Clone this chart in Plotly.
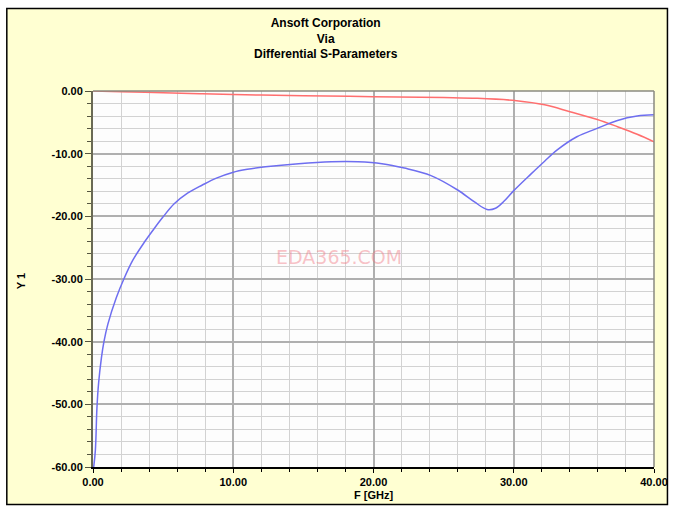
import plotly.graph_objects as go

# Data
freq_s11 = [0.05, 0.17, 0.28, 0.4, 0.6, 0.78, 1.06, 1.66, 2.2, 2.84, 3.67, 4.38, 4.96,
            5.79, 6.74, 7.8, 8.8, 9.95, 11.0, 12.3, 14.66, 17.0, 18.9, 20.6, 22.2, 24.1,
            26.0, 27.2, 28.1, 28.7, 29.3, 30.0, 31.2, 32.2, 33.1, 34.5, 35.9, 37.4, 38.8, 40.0]
s11_db = [-60.0, -57.3, -50.6, -46.6, -42.6, -40.0, -37.2, -33.0, -30.0, -27.0, -24.1,
          -21.9, -20.2, -18.0, -16.3, -15.0, -13.9, -13.0, -12.5, -12.1, -11.6, -11.3,
          -11.3, -11.6, -12.3, -13.5, -15.8, -17.7, -18.9, -18.7, -17.6, -15.9, -13.3,
          -11.2, -9.4, -7.3, -6.0, -4.7, -4.0, -3.8]

freq_s21 = [0.0, 2.0, 5.0, 7.6, 10.0, 12.0, 15.0, 20.0, 25.0, 27.4, 30.2, 32.2, 34.0,
            35.9, 37.4, 38.8, 40.0]
s21_db = [0.0, -0.1, -0.27, -0.43, -0.56, -0.64, -0.75, -0.9, -1.05, -1.17, -1.55,
          -2.2, -3.3, -4.5, -5.7, -6.9, -8.1]

x_ticks = [0, 10, 20, 30, 40]
x_ticklabels = ["0.00", "10.00", "20.00", "30.00", "40.00"]
y_ticks = [0, -10, -20, -30, -40, -50, -60]
y_ticklabels = ["0.00", "-10.00", "-20.00", "-30.00", "-40.00", "-50.00", "-60.00"]

title_lines = ["Ansoft Corporation", "Via", "Differential S-Parameters"]

FONT = "Liberation Sans, Arial, sans-serif"

fig = go.Figure()
fig.add_trace(go.Scatter(x=freq_s21, y=s21_db, mode="lines",
                         line=dict(color="#FF6E6E", width=1.5, shape="spline", smoothing=1.0),
                         showlegend=False, hoverinfo="skip"))
fig.add_trace(go.Scatter(x=freq_s11, y=s11_db, mode="lines",
                         line=dict(color="#6E6EF0", width=1.5, shape="spline", smoothing=1.0),
                         showlegend=False, hoverinfo="skip"))

fig.update_layout(
    width=680, height=514, autosize=False,
    margin=dict(l=93, r=24, t=91, b=47),
    paper_bgcolor="#FFFFFF",
    plot_bgcolor="#FDFDFD",
    font=dict(family=FONT, color="#000000"),
    showlegend=False,
)

fig.update_xaxes(
    range=[0, 40], tickvals=x_ticks, ticktext=x_ticklabels,
    tickfont=dict(size=11, weight="bold", family=FONT),
    showgrid=True, gridcolor="#AFAFAF", gridwidth=1.5,
    minor=dict(dtick=2, showgrid=True, gridcolor="#D2D2D2", gridwidth=1,
               ticks="outside", ticklen=3, tickcolor="#000000"),
    ticks="outside", ticklen=4, tickcolor="#000000",
    showline=True, linecolor="#000000", linewidth=2,
    zeroline=False,
)
fig.update_yaxes(
    range=[-60, 0], tickvals=y_ticks, ticktext=y_ticklabels,
    tickfont=dict(size=11, weight="bold", family=FONT),
    showgrid=True, gridcolor="#AFAFAF", gridwidth=1.5,
    minor=dict(dtick=2, showgrid=True, gridcolor="#D2D2D2", gridwidth=1,
               ticks="outside", ticklen=4, tickcolor="#555540"),
    ticks="outside", ticklen=6, tickcolor="#555540",
    showline=True, linecolor="#6A6A55", linewidth=2,
    zeroline=False,
)

pw, ph = 563.0, 376.0

# yellow chart background inside outer frame
fig.add_shape(type="rect", xref="paper", yref="paper",
              x0=(6 - 93) / pw, x1=(670 - 93) / pw, y0=(467 - 505) / ph, y1=(467 - 8) / ph,
              line=dict(width=0), fillcolor="#FFFFD2", layer="below")
# white plot area on top of the yellow
fig.add_shape(type="rect", xref="paper", yref="paper", x0=0, x1=1, y0=0, y1=1,
              line=dict(width=0), fillcolor="#FDFDFD", layer="below")

# plot area right/top border
fig.add_shape(type="line", xref="paper", yref="paper", x0=0, x1=1, y0=1, y1=1,
              line=dict(color="#8A8A80", width=1.5))
fig.add_shape(type="line", xref="paper", yref="paper", x0=1, x1=1, y0=0, y1=1,
              line=dict(color="#8A8A80", width=1.5))

# outer frame
fig.add_shape(type="rect", xref="paper", yref="paper",
              x0=(6.5 - 93) / pw, x1=(669.5 - 93) / pw, y0=(467 - 504.5) / ph, y1=(467 - 8.5) / ph,
              line=dict(color="#000000", width=1.5), fillcolor="rgba(0,0,0,0)", layer="above")

fig.add_annotation(text="<br>".join(title_lines), xref="paper", yref="paper",
                   x=(327 - 93) / pw, y=(467 - 14) / ph, xanchor="center", yanchor="top",
                   showarrow=False, font=dict(size=12, weight="bold", family=FONT))
fig.add_annotation(text="F [GHz]", xref="paper", yref="paper",
                   x=(375 - 93) / pw, y=(467 - 495) / ph, xanchor="center", yanchor="middle",
                   showarrow=False, font=dict(size=11, weight="bold", family=FONT))
fig.add_annotation(text="Y 1", xref="paper", yref="paper", textangle=-90,
                   x=(21 - 93) / pw, y=(467 - 281) / ph, xanchor="center", yanchor="middle",
                   showarrow=False, font=dict(size=11, weight="bold", family=FONT))
fig.add_annotation(text="EDA365.COM", xref="paper", yref="paper",
                   x=(340 - 93) / pw, y=(467 - 257) / ph, xanchor="center", yanchor="middle",
                   showarrow=False,
                   font=dict(size=19, color="rgba(240,120,130,0.45)",
                             family="DejaVu Sans, Verdana, sans-serif"))

fig.write_html("out.html", config={"displayModeBar": False},
               post_script="document.body.style.margin='0';")
